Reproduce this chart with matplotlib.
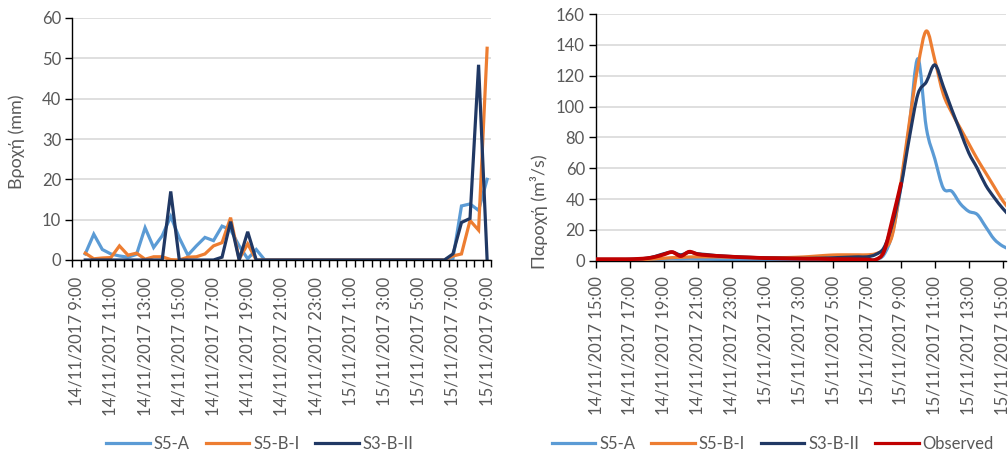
import numpy as np
import matplotlib
matplotlib.use("Agg")
import matplotlib.pyplot as plt
from matplotlib.lines import Line2D
from matplotlib.path import Path
from matplotlib.patches import PathPatch

plt.rcParams['font.family'] = ['Lato', 'DejaVu Sans']

nan = np.nan
# ---------- Left chart: rainfall (30-min categories, 14/11 9:00 -> 15/11 9:00)
rain_s5a = [nan, 1.5, 6.4, 2.6, 1.5, 1.0, 0.7, 1.4, 8.0, 3.1, 6.0, 10.8, 5.5, 1.2, 3.5, 5.6,
            4.8, 8.4, 7.5, 3.5, 0.3, 2.6, 0, 0, 0, 0, 0, 0, 0, 0, 0, 0, 0, 0, 0, 0, 0, 0, 0, 0,
            0, 0, 0, 0, 0.3, 13.4, 13.9, 12.3, 20.0]
rain_s5bi = [nan, 1.7, 0.3, 0.5, 0.6, 3.5, 1.2, 1.7, 0.2, 0.8, 0.8, 0.1, 0, 0.7, 0.8, 1.5,
             3.5, 4.3, 10.5, 0.2, 4.0, 0, 0, 0, 0, 0, 0, 0, 0, 0, 0, 0, 0, 0, 0, 0, 0, 0, 0, 0,
             0, 0, 0, 0, 1.0, 1.5, 9.8, 7.4, 52.5]
rain_s3bii = [nan, 0, 0, 0, 0, 0, 0, 0, 0, 0, 0, 17.0, 0, 0, 0, 0,
              0, 0.7, 9.5, 0, 7.0, 0, 0, 0, 0, 0, 0, 0, 0, 0, 0, 0, 0, 0, 0, 0, 0, 0, 0, 0,
              0, 0, 0, 0, 1.5, 9.3, 10.3, 48.4, 0]
rain_tick_labels = ["14/11/2017 9:00", "14/11/2017 11:00", "14/11/2017 13:00", "14/11/2017 15:00",
                    "14/11/2017 17:00", "14/11/2017 19:00", "14/11/2017 21:00", "14/11/2017 23:00",
                    "15/11/2017 1:00", "15/11/2017 3:00", "15/11/2017 5:00", "15/11/2017 7:00",
                    "15/11/2017 9:00"]

# ---------- Right chart: discharge (hours after 14/11 15:00, every 30 min)
q_hours = [i * 0.5 for i in range(50)]
q_s5a = [0.3, 0.3, 0.3, 0.3, 0.3, 0.4, 0.5, 0.7, 1.0, 1.2, 1.1, 1.2, 1.1, 1.0, 0.9, 0.8,
         0.7, 0.7, 0.6, 0.6, 0.6, 0.5, 0.5, 0.5, 0.5, 0.5, 0.5, 0.5, 0.5, 0.5, 0.5, 0.5,
         0.5, 0.8, 4.0, 18.0, 48.0, 88.0, 131.0, 86.0, 66.0, 47.0, 45.0, 37.0, 32.0, 30.0,
         22.0, 14.0, 9.5, 7.0]
q_s5bi = [0.5, 0.5, 0.5, 0.5, 0.6, 0.7, 0.9, 1.2, 1.6, 2.0, 2.2, 2.4, 2.5, 2.5, 2.5, 2.4,
          2.3, 2.2, 2.1, 2.0, 2.0, 2.0, 2.0, 2.1, 2.3, 2.6, 3.0, 3.4, 3.7, 3.8, 3.8, 3.8,
          3.8, 4.5, 7.5, 17.0, 51.0, 90.0, 126.0, 149.0, 130.0, 108.0, 96.0, 86.0, 76.0, 66.0,
          57.0, 48.0, 39.0, 32.0]
q_s3bii = [0.8, 0.8, 0.8, 0.8, 0.9, 1.1, 1.6, 2.8, 4.5, 5.5, 3.8, 5.5, 4.5, 4.0, 3.4, 3.0,
           2.7, 2.4, 2.2, 2.0, 1.8, 1.7, 1.6, 1.5, 1.5, 1.5, 1.6, 1.7, 1.9, 2.1, 2.3, 2.5,
           2.5, 4.0, 8.5, 24.0, 48.0, 80.0, 108.0, 116.0, 127.0, 113.0, 98.0, 84.0, 70.0, 60.0,
           49.0, 41.0, 34.0, 28.0]
q_observed = [1.0, 1.0, 1.0, 1.0, 1.0, 1.2, 1.6, 2.5, 4.0, 5.6, 3.0, 5.8, 4.2, 3.6, 3.2, 2.9,
              2.6, 2.3, 2.1, 1.9, 1.7, 1.6, 1.5, 1.4, 1.3, 1.2, 1.2, 1.1, 1.0, 1.0, 1.0, 0.9,
              0.8, 0.7, 6.0, 27.0, 50.0]
q_tick_labels = ["14/11/2017 15:00", "14/11/2017 17:00", "14/11/2017 19:00", "14/11/2017 21:00",
                 "14/11/2017 23:00", "15/11/2017 1:00", "15/11/2017 3:00", "15/11/2017 5:00",
                 "15/11/2017 7:00", "15/11/2017 9:00", "15/11/2017 11:00", "15/11/2017 13:00",
                 "15/11/2017 15:00"]

C_A = '#5B9BD5'
C_BI = '#ED7D31'
C_BII = '#203864'
C_OBS = '#C00000'
TXT = '#595959'
GRID = '#D9D9D9'
FS = 12
FSL = 13
LW = 2.3

W, H = 1008, 458
fig = plt.figure(figsize=(W / 100, H / 100), dpi=100)

def px_axes(x0, y0, x1, y1):
    return fig.add_axes([x0 / W, 1 - y1 / H, (x1 - x0) / W, (y1 - y0) / H])

def style(ax):
    for s in ['top', 'right']:
        ax.spines[s].set_visible(False)
    for s in ['left', 'bottom']:
        ax.spines[s].set_color('black')
        ax.spines[s].set_linewidth(1.0)
    ax.yaxis.grid(True, color=GRID, linewidth=1.2)
    ax.set_axisbelow(True)
    ax.tick_params(axis='y', direction='out', length=5, width=1, colors='black',
                   labelcolor=TXT, labelsize=FS, pad=3)

def smooth_line(ax, xs, ys, color, lw, z=2):
    """Excel-style smoothed line drawn as a cubic Bezier path through the data points."""
    x = np.asarray(xs, float)
    y = np.asarray(ys, float)
    n = len(x)
    verts = [(x[0], y[0])]
    codes = [Path.MOVETO]
    for i in range(n - 1):
        xm, ym = (x[i - 1], y[i - 1]) if i > 0 else (x[i], y[i])
        xp, yp = (x[i + 2], y[i + 2]) if i + 2 < n else (x[i + 1], y[i + 1])
        c1 = (x[i] + (x[i + 1] - xm) / 6, y[i] + (y[i + 1] - ym) / 6)
        c2 = (x[i + 1] - (xp - x[i]) / 6, y[i + 1] - (yp - y[i]) / 6)
        verts += [c1, c2, (x[i + 1], y[i + 1])]
        codes += [Path.CURVE4] * 3
    patch = PathPatch(Path(verts, codes), fill=False, edgecolor=color, lw=lw,
                      capstyle='round', joinstyle='round', zorder=z)
    ax.add_patch(patch)

# Left
ax1 = px_axes(72.4, 18, 491.4, 260)
style(ax1)
cats = np.arange(len(rain_s5a))
ax1.plot(cats, rain_s5a, color=C_A, lw=LW, solid_joinstyle='miter')
ax1.plot(cats, rain_s5bi, color=C_BI, lw=LW, solid_joinstyle='miter')
ax1.plot(cats, rain_s3bii, color=C_BII, lw=LW, solid_joinstyle='miter')
ax1.set_xlim(-0.5, len(cats) - 0.5)
ax1.set_ylim(0, 60)
ax1.set_yticks(range(0, 61, 10))
ax1.set_xticks(np.arange(0, len(cats), 4))
ax1.set_xticklabels(rain_tick_labels, rotation=90)
ax1.set_xticks(np.arange(-0.5, len(cats), 1), minor=True)
ax1.tick_params(axis='x', which='major', length=0, labelsize=FS, labelcolor=TXT, pad=12)
ax1.tick_params(axis='x', which='minor', direction='out', length=5, width=1, colors='black')
ax1.set_ylabel('Βροχή (mm)', fontsize=FSL, color=TXT)
ax1.yaxis.set_label_coords(-0.112, 0.49)

# Right
ax2 = px_axes(596, 14, 1006, 260.7)
style(ax2)
smooth_line(ax2, q_hours, q_s5a, C_A, LW, 2)
smooth_line(ax2, q_hours, q_s5bi, C_BI, LW, 3)
smooth_line(ax2, q_hours, q_s3bii, C_BII, LW, 4)
smooth_line(ax2, q_hours[:len(q_observed)], q_observed, C_OBS, LW + 0.4, 5)
ax2.set_xlim(0, 24.2)
ax2.set_ylim(0, 160)
ax2.set_yticks(range(0, 161, 20))
ax2.set_xticks(np.arange(0, 25, 2))
ax2.set_xticklabels(q_tick_labels, rotation=90)
ax2.tick_params(axis='x', direction='out', length=5, width=1, colors='black',
                labelcolor=TXT, labelsize=FS, pad=6)
ax2.set_ylabel('Παροχή (m³/s)', fontsize=FSL, color=TXT)
ax2.yaxis.set_label_coords(-0.118, 0.2)

h1 = [Line2D([], [], color=C_A, lw=LW), Line2D([], [], color=C_BI, lw=LW),
      Line2D([], [], color=C_BII, lw=LW)]
fig.legend(h1, ['S5-A', 'S5-B-I', 'S3-B-II'], loc='center', bbox_to_anchor=(260 / W, 1 - 444 / H),
           ncol=3, frameon=False, fontsize=FS, labelcolor=TXT, handlelength=2.6,
           columnspacing=0.95, handletextpad=0.25)
h2 = h1 + [Line2D([], [], color=C_OBS, lw=LW)]
fig.legend(h2, ['S5-A', 'S5-B-I', 'S3-B-II', 'Observed'], loc='center',
           bbox_to_anchor=(773 / W, 1 - 444 / H), ncol=4, frameon=False, fontsize=FS,
           labelcolor=TXT, handlelength=2.6, columnspacing=0.95, handletextpad=0.25)

fig.savefig('out.png', dpi=100)
